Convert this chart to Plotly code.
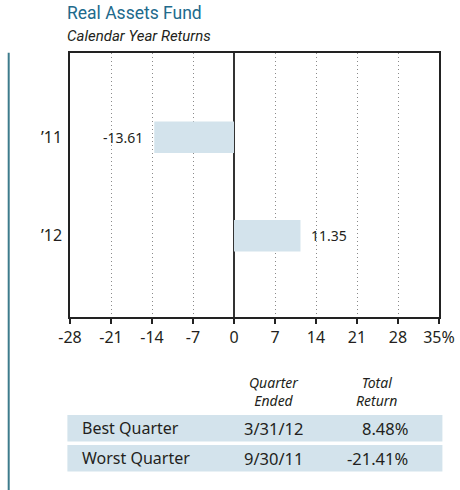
import plotly.graph_objects as go

years = ["’11", "’12"]
returns = [-13.61, 11.35]
x_ticks = [-28, -21, -14, -7, 0, 7, 14, 21, 28, 35]
x_tick_labels = ["-28", "-21", "-14", "-7", "0", "7", "14", "21", "28", "35%"]
table_header = [["Quarter", "Ended"], ["Total", "Return"]]
table_labels = ["Best Quarter", "Worst Quarter"]
table_dates = ["3/31/12", "9/30/11"]
table_returns = ["8.48%", "-21.41%"]

W, H = 460, 490
L, R, T, B = 70.3, 439.3, 53.3, 317.3
FONT = "Noto Sans"
TFONT = "Roboto"
TXT = "#231f20"
BAR = "#d3e3ec"

def px(x):
    return (x - L) / (R - L)

def py(y):
    return (B - y) / (B - T)

ypos = list(range(len(years)))

fig = go.Figure()
fig.add_trace(go.Bar(
    y=ypos, x=returns, orientation="h", width=0.32,
    marker=dict(color=BAR, line=dict(width=0)),
    hoverinfo="skip",
))

annotations = []
for yi, v in zip(ypos, returns):
    annotations.append(dict(
        x=v, y=yi, xref="x", yref="y", text=f"{v:.2f}", showarrow=False,
        xanchor="left" if v >= 0 else "right",
        xshift=9 if v >= 0 else -9,
        font=dict(family=FONT, size=14, color=TXT),
    ))

# Title
annotations.append(dict(x=px(65), y=py(25.5), xref="paper", yref="paper",
                        text="Real Assets Fund", showarrow=False, xanchor="left", yanchor="bottom",
                        font=dict(family=TFONT, size=17.5, color="#216a8c")))
annotations.append(dict(x=px(65), y=py(47), xref="paper", yref="paper",
                        text="<i>Calendar Year Returns</i>", showarrow=False, xanchor="left", yanchor="bottom",
                        font=dict(family=TFONT, size=15, color=TXT)))

# Table header
hdr_x = [273.3, 377]
for hx, lines in zip(hdr_x, table_header):
    annotations.append(dict(x=px(hx), y=py(392), xref="paper", yref="paper",
                            text="<i>" + "<br>".join(lines) + "</i>", showarrow=False,
                            xanchor="center", yanchor="middle",
                            font=dict(family=FONT, size=14, color=TXT)))

shapes = []
row_tops = [415.3, 445.3]
row_h = 26.4
for i, (lab, d, r) in enumerate(zip(table_labels, table_dates, table_returns)):
    top = row_tops[i]
    shapes.append(dict(type="rect", xref="paper", yref="paper",
                       x0=px(67.7), x1=px(442.7), y0=py(top + row_h), y1=py(top),
                       fillcolor=BAR, line=dict(width=0), layer="below"))
    cy = py(top + row_h / 2)
    annotations.append(dict(x=px(80.7), y=cy, xref="paper", yref="paper", text=lab,
                            showarrow=False, xanchor="left", yanchor="middle",
                            font=dict(family=FONT, size=16, color=TXT)))
    annotations.append(dict(x=px(273.3), y=cy, xref="paper", yref="paper", text=d,
                            showarrow=False, xanchor="center", yanchor="middle",
                            font=dict(family=FONT, size=16.5, color=TXT)))
    annotations.append(dict(x=px(410), y=cy, xref="paper", yref="paper", text=r,
                            showarrow=False, xanchor="right", yanchor="middle",
                            font=dict(family=FONT, size=16.5, color=TXT)))

# left vertical rule
shapes.append(dict(type="line", xref="paper", yref="paper",
                   x0=px(9), x1=px(9), y0=py(53), y1=py(492),
                   line=dict(color="#3d7b8c", width=2)))

fig.update_layout(
    width=W, height=H,
    margin=dict(l=L, r=W - R, t=T, b=H - B, pad=0),
    paper_bgcolor="white", plot_bgcolor="white",
    showlegend=False,
    annotations=annotations, shapes=shapes,
    xaxis=dict(range=[-28, 35], tickvals=x_ticks, ticktext=x_tick_labels,
               showgrid=True, gridcolor="#8a8a8a", griddash="1px,3px", gridwidth=1,
               zeroline=True, zerolinecolor="#333333", zerolinewidth=1.5,
               showline=True, linecolor="#222222", linewidth=1.5, mirror=True,
               ticks="outside", ticklen=5, tickcolor="#222222", tickwidth=1.5,
               tickfont=dict(family=FONT, size=16, color=TXT), fixedrange=True,
               automargin=False),
    yaxis=dict(range=[1.825, -0.855], tickvals=ypos, ticktext=years,
               showgrid=False, zeroline=False,
               showline=True, linecolor="#222222", linewidth=1.5, mirror=True,
               ticks="", ticklabelstandoff=3,
               tickfont=dict(family=FONT, size=16, color=TXT), fixedrange=True,
               automargin=False),
)

fig.write_html(
    "out.html",
    config={"displayModeBar": False},
    post_script="document.body.style.margin='0';document.body.style.overflow='hidden';",
)
